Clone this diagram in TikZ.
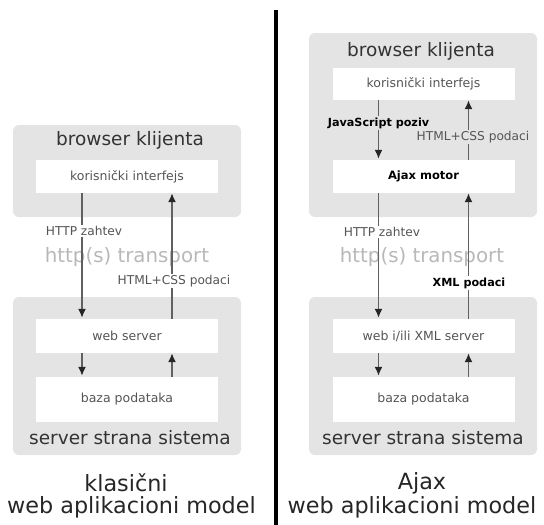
\documentclass[tikz,border=0pt]{standalone}
\usepackage{fontspec}
\setmainfont{DejaVu Sans}
\usetikzlibrary{arrows.meta}
\definecolor{panelgray}{HTML}{E4E4E4}
\definecolor{boxtext}{HTML}{555555}
\definecolor{titletext}{HTML}{333333}
\definecolor{transgray}{HTML}{B8B8B8}
\definecolor{linegray}{HTML}{606060}
\tikzset{
  panel/.style={fill=panelgray, rounded corners=6pt, minimum width=228pt, inner sep=0pt},
  layer/.style={fill=white, minimum width=182pt, inner sep=0pt, text=boxtext, font=\fontsize{12.5}{14}\selectfont},
  boldlayer/.style={layer, text=black, font=\fontsize{11.5}{13}\selectfont\bfseries},
  title/.style={text=titletext, font=\fontsize{18.5}{21}\selectfont, inner sep=0pt},
  caption/.style={text=black!85, font=\fontsize{22.3}{25}\selectfont, inner sep=0pt},
  transport/.style={text=transgray, font=\fontsize{19.8}{22}\selectfont, inner sep=0pt},
  lbl/.style={text=boxtext, font=\fontsize{12.2}{14}\selectfont, inner sep=1.5pt},
  boldlbl/.style={text=black, font=\fontsize{11.2}{13}\selectfont\bfseries, inner sep=1.5pt},
  flow/.style={draw=linegray, line width=1.6pt, -{Latex[length=9pt,width=8pt,color=black!85]}},
}
\begin{document}
\begin{tikzpicture}[x=1pt, y=-1pt]
\useasboundingbox (0,0) rectangle (544,525);

% divider between the two models
\draw[line width=4pt, black] (276,10) -- (276,525);

% ---------- classic model ----------
\node[panel, minimum height=92pt] (lbrowser) at (127,171) {};
\node[title] (ltitle) at (130,140) {browser klijenta};
\node[layer, minimum height=33pt] (lui) at (127,176.5) {korisnički interfejs};

\node[panel, minimum height=158pt] (lserver) at (127,376) {};
\node[layer, minimum height=34pt] (lweb) at (127,336) {web server};
\node[layer, minimum height=45pt] (ldb) at (127,399.5) {baza podataka};
\node[title] (lside) at (130,438) {server strana sistema};

\node[transport] (ltrans) at (127,257) {http(s) transport};

\draw[flow] ([xshift=-45pt]lui.south) -- ([xshift=-45pt,yshift=1pt]lweb.north);
\draw[flow] ([xshift=45pt]lweb.north) -- ([xshift=45pt]lui.south);
\node[lbl, fill=white] (lhttp) at (84,231) {HTTP zahtev};
\node[lbl, fill=white] (lhtml) at (174,281) {HTML+CSS podaci};

\draw[flow] ([xshift=-45pt]lweb.south) -- ([xshift=-45pt,yshift=1pt]ldb.north);
\draw[flow] ([xshift=45pt]ldb.north) -- ([xshift=45pt]lweb.south);

\node[caption] (lcap1) at (126,483) {klasični};
\node[caption] (lcap2) at (131.5,507) {web aplikacioni model};

% ---------- Ajax model ----------
\node[panel, minimum height=184pt] (rbrowser) at (423,125) {};
\node[title] (rtitle) at (421,51) {browser klijenta};
\node[layer, minimum height=32pt] (rui) at (423.5,84) {korisnički interfejs};
\node[boldlayer, minimum height=33pt] (rajax) at (423.5,176.5) {Ajax motor};

\node[panel, minimum height=158pt] (rserver) at (423,376) {};
\node[layer, minimum height=34pt] (rweb) at (423.5,336) {web i/ili XML server};
\node[layer, minimum height=45pt] (rdb) at (423.5,399.5) {baza podataka};
\node[title] (rside) at (423,438) {server strana sistema};

\node[transport] (rtrans) at (422,257) {http(s) transport};

\draw[flow] ([xshift=-45pt]rui.south) -- ([xshift=-45pt,yshift=1pt]rajax.north);
\draw[flow] ([xshift=45pt]rajax.north) -- ([xshift=45pt]rui.south);
\node[boldlbl, fill=panelgray] (rjs) at (378.5,123) {JavaScript poziv};
\node[lbl, fill=panelgray] (rhtml) at (473,137) {HTML+CSS podaci};

\draw[flow] ([xshift=-45pt]rajax.south) -- ([xshift=-45pt,yshift=1pt]rweb.north);
\draw[flow] ([xshift=45pt]rweb.north) -- ([xshift=45pt]rajax.south);
\node[lbl, fill=white] (rhttp) at (382,232) {HTTP zahtev};
\node[boldlbl, fill=white] (rxml) at (469,283) {XML podaci};

\draw[flow] ([xshift=-45pt]rweb.south) -- ([xshift=-45pt,yshift=1pt]rdb.north);
\draw[flow] ([xshift=45pt]rdb.north) -- ([xshift=45pt]rweb.south);

\node[caption] (rcap1) at (422,483) {Ajax};
\node[caption] (rcap2) at (412,507) {web aplikacioni model};
\end{tikzpicture}
\end{document}
